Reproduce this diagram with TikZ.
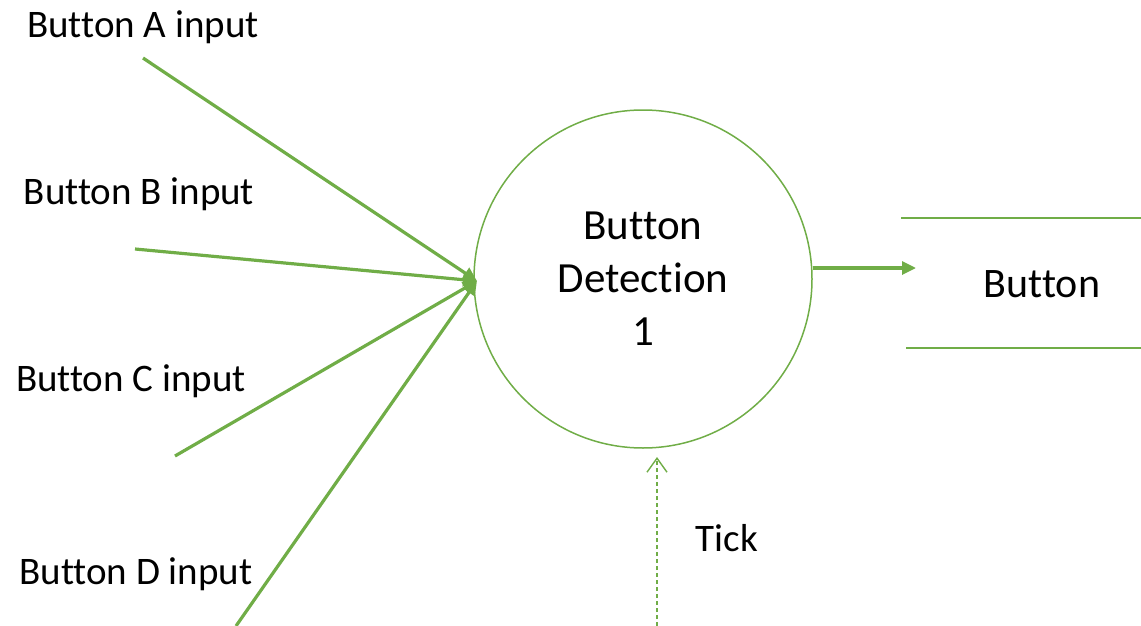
\documentclass[tikz,border=0pt]{standalone}
\usepackage{fontspec}
\setmainfont{Carlito}[Ligatures={NoCommon,NoContextual},Contextuals=NoAlternate]
\usetikzlibrary{arrows.meta}
\definecolor{officegreen}{HTML}{70AD47}
\begin{document}
\begin{tikzpicture}[x=1pt,y=-1pt,
  lbl/.style={font=\fontsize{39}{46}\selectfont, inner sep=0pt, anchor=center},
  inflow/.style={draw=officegreen, line width=3.2pt, -{Triangle[length=14pt,width=13pt]}},
  proc/.style={circle, draw=officegreen, line width=1.5pt, minimum size=338pt, inner sep=0pt,
    align=center, font=\fontsize{43}{53}\selectfont},
  storeline/.style={draw=officegreen, line width=1.5pt},
  tickflow/.style={draw=officegreen, line width=1.4pt, dash pattern=on 4pt off 3pt,
    -{Straight Barb[length=14pt,width=20pt]}}]
\useasboundingbox (0,0) rectangle (1141,626);
\node[proc] (p) at (643,279) {Button\\Detection\\1};
% labels
\node[lbl] (la) at (143,27) {Button A input};
\node[lbl] (lb) at (139,194) {Button B input};
\node[lbl] (lc) at (131,381) {Button C input};
\node[lbl] (ld) at (136,574) {Button D input};
\node[lbl] (lt) at (727,538) {Tick};
\node[lbl, font=\fontsize{42}{50}\selectfont] (store) at (1042,284) {Button};
% input start points
\coordinate (sa) at (143,58);
\coordinate (sb) at (135,249);
\coordinate (sc) at (175,456);
\coordinate (sd) at (236,626);
\coordinate (pin) at (477,281);
\draw[inflow] (sa) -- (pin);
\draw[inflow] (sb) -- (pin);
\draw[inflow] (sc) -- (pin);
\draw[inflow] (sd) -- (pin);
% output
\coordinate (oe) at (916,268);
\draw[inflow] (p.east |- oe) -- (oe);
% store lines
\coordinate (st1) at (901,218);
\coordinate (st2) at (1141,218);
\coordinate (sb1) at (906,348);
\coordinate (sb2) at (1141,348);
\draw[storeline] (st1) -- (st2);
\draw[storeline] (sb1) -- (sb2);
% tick
\coordinate (ts) at (657,626);
\coordinate (te) at (657,457);
\draw[tickflow] (ts) -- (te);
\end{tikzpicture}
\end{document}
